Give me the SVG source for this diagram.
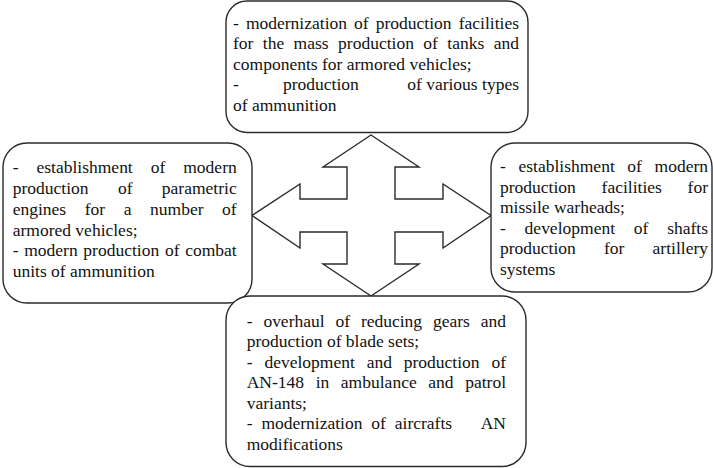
<svg xmlns="http://www.w3.org/2000/svg" width="713" height="468" viewBox="0 0 713 468">
<style>
.box{fill:#fff;stroke:#2b2b2b;stroke-width:1.4}
.arrow{fill:#fff;stroke:#2b2b2b;stroke-width:1.4;stroke-linejoin:miter}
.t{font-family:'Liberation Serif',serif;font-size:17.5px;fill:#111}
.e{text-anchor:end}
</style>
<rect width="713" height="468" fill="#fff"/>
<g id="connectors">
<polygon class="arrow" points="371,135 419,167 395,167 395,199 443,199 443,184 491,215.5 443,248 443,232 395,232 395,264 419,264 371,296 323,264 347,264 347,232 300,232 300,248 252,215.5 300,184 300,199 347,199 347,167 323,167"/>
</g>
<g id="node-top" class="t">
<rect class="box" x="226" y="1" width="302" height="131.5" rx="21"/>
<text x="233" y="28.5" word-spacing="2.7" textLength="286" lengthAdjust="spacing">- modernization of production facilities</text>
<text x="233" y="49" word-spacing="5" textLength="286" lengthAdjust="spacing">for the mass production of tanks and</text>
<text x="233" y="69.5">components for armored vehicles;</text>
<text x="233" y="90">-</text>
<text x="283" y="90">production</text>
<text class="e" x="519" y="90">of various types</text>
<text x="233" y="110.5">of ammunition</text>
</g>
<g id="node-left" class="t">
<rect class="box" x="3" y="143" width="249" height="160" rx="24"/>
<text x="12.7" y="173.3" word-spacing="13.6" textLength="224" lengthAdjust="spacing">- establishment of modern</text>
<text x="12.7" y="194.3" word-spacing="25" textLength="224" lengthAdjust="spacing">production of parametric</text>
<text x="12.7" y="215" word-spacing="14.2" textLength="224" lengthAdjust="spacing">engines for a number of</text>
<text x="12.7" y="235.5">armored vehicles;</text>
<text x="12.7" y="256" word-spacing="1.3" textLength="224" lengthAdjust="spacing">- modern production of combat</text>
<text x="12.7" y="276.5">units of ammunition</text>
</g>
<g id="node-right" class="t">
<rect class="box" x="491" y="143" width="221" height="149" rx="24"/>
<text x="500" y="172.3" word-spacing="8.2" textLength="208" lengthAdjust="spacing">- establishment of modern</text>
<text x="500" y="193" word-spacing="21.4" textLength="208" lengthAdjust="spacing">production facilities for</text>
<text x="500" y="213.3">missile warheads;</text>
<text x="500" y="233.7" word-spacing="14.4" textLength="208" lengthAdjust="spacing">- development of shafts</text>
<text x="500" y="254.3" word-spacing="23.8" textLength="208" lengthAdjust="spacing">production for artillery</text>
<text x="500" y="274.5">systems</text>
</g>
<g id="node-bottom" class="t">
<rect class="box" x="226" y="296" width="300" height="170.5" rx="24"/>
<text x="246.7" y="326.7" word-spacing="6.5" textLength="259.3" lengthAdjust="spacing">- overhaul of reducing gears and</text>
<text x="246.7" y="347">production of blade sets;</text>
<text x="246.7" y="367.5" word-spacing="7.5" textLength="259.3" lengthAdjust="spacing">- development and production of</text>
<text x="246.7" y="388" word-spacing="7.2" textLength="259.3" lengthAdjust="spacing">AN-148 in ambulance and patrol</text>
<text x="246.7" y="408.5">variants;</text>
<text x="246.7" y="429" word-spacing="4.5">- modernization of aircrafts</text>
<text class="e" x="506" y="429">AN</text>
<text x="246.7" y="449.5">modifications</text>
</g>
</svg>
